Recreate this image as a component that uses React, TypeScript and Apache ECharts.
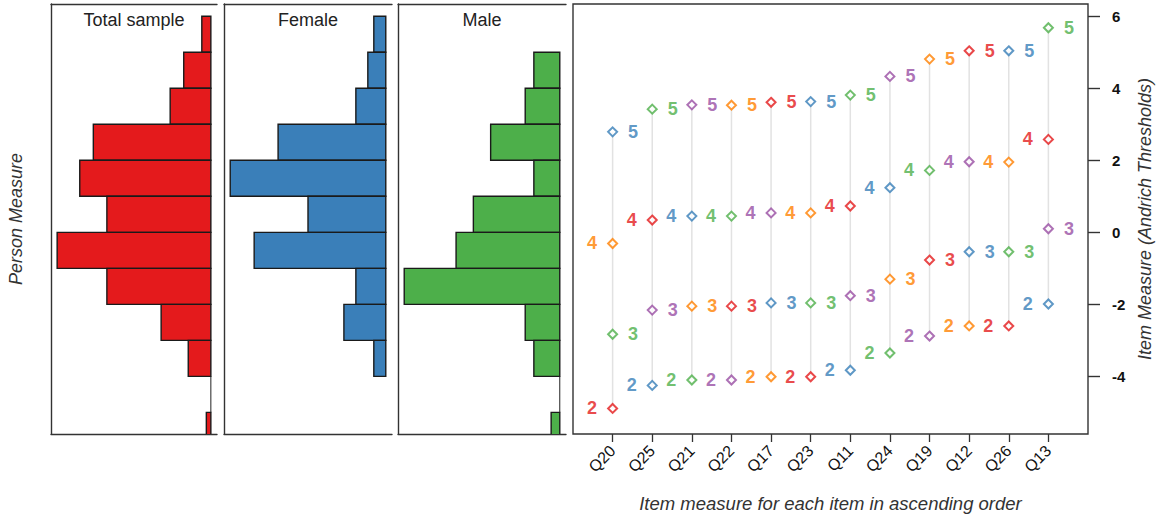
import React, { useEffect, useRef } from "react";
import * as echarts from "echarts";

// Histogram bins (person measure), from top bin (5..6) down to (-6..-5)
const binEdges = [6, 5, 4, 3, 2, 1, 0, -1, -2, -3, -4, -5, -6];
const totalCounts = [2, 6, 9, 26, 29, 23, 34, 23, 11, 5, 0, 1];
const femaleCounts = [2, 3, 5, 18, 26, 13, 22, 5, 7, 2, null, null];
const maleCounts = [null, 3, 4, 8, 3, 10, 12, 18, 4, 3, 0, 1];
const panelTitles = ["Total sample", "Female", "Male"];

// Item thresholds (Andrich), items in ascending order
const items = ["Q20", "Q25", "Q21", "Q22", "Q17", "Q23", "Q11", "Q24", "Q19", "Q12", "Q26", "Q13"];
const threshold2 = [-4.89, -4.25, -4.1, -4.1, -4.01, -4.01, -3.83, -3.35, -2.88, -2.6, -2.6, -1.99];
const threshold3 = [-2.83, -2.16, -2.05, -2.05, -1.96, -1.96, -1.76, -1.3, -0.77, -0.54, -0.54, 0.1];
const threshold4 = [-0.31, 0.34, 0.45, 0.45, 0.54, 0.54, 0.73, 1.24, 1.72, 1.96, 1.95, 2.58];
const threshold5 = [2.79, 3.42, 3.54, 3.53, 3.61, 3.63, 3.81, 4.33, 4.81, 5.04, 5.04, 5.68];
const thresholdLabels = ["2", "3", "4", "5"];
const yTicks = [-4, -2, 0, 2, 4, 6];

const Y_MIN = -5.6;
const Y_MAX = 6.34;
const palette = ["#E41A1C", "#377EB8", "#4DAF4A", "#984EA3", "#FF7F00"];
const histColors = ["#E41A1C", "#3A7FB9", "#4DAF4A"];
const FONT = "'Liberation Sans', Arial, sans-serif";

const histGrids = [
  { left: 51, width: 166 },
  { left: 224, width: 168 },
  { left: 398, width: 168 },
];
const TOP = 4;
const HEIGHT = 430;

export default function App() {
  const ref = useRef<HTMLDivElement>(null);

  useEffect(() => {
    document.body.style.margin = "0";
    if (!ref.current) return;
    const chart = echarts.init(ref.current, null, { renderer: "svg" });
    const histData = [totalCounts, femaleCounts, maleCounts];
    const frameLine = { color: "#333", width: 1.4 };
    const nameStyle = { fontStyle: "italic", fontSize: 18, color: "#333", fontFamily: FONT };

    const grids: any[] = histGrids.map((g) => ({
      left: g.left,
      width: g.width,
      top: TOP,
      height: HEIGHT,
      show: false,
      containLabel: false,
      outerBoundsMode: "none",
    }));
    grids.push({
      left: 573,
      width: 515,
      top: TOP,
      height: HEIGHT,
      show: true,
      borderColor: "#333",
      borderWidth: 1.4,
      containLabel: false,
      outerBoundsMode: "none",
    });

    const xAxes: any[] = [];
    const yAxes: any[] = [];
    histData.forEach((counts, k) => {
      const mx = Math.max(...(counts.filter((c) => c != null) as number[]));
      ["bottom", "top"].forEach((pos) => {
        xAxes.push({
          type: "value",
          gridIndex: k,
          position: pos,
          inverse: true,
          min: -0.04 * mx,
          max: 1.04 * mx,
          axisLine: { show: true, onZero: false, lineStyle: frameLine },
          axisTick: { show: false },
          axisLabel: { show: false },
          splitLine: { show: false },
        });
      });
      yAxes.push({
        type: "value",
        gridIndex: k,
        position: "left",
        min: Y_MIN,
        max: Y_MAX,
        axisLine: { show: true, onZero: false, lineStyle: frameLine },
        axisTick: { show: false },
        axisLabel: { show: false },
        splitLine: { show: false },
        name: k === 0 ? "Person Measure" : "",
        nameLocation: "middle",
        nameRotate: 90,
        nameGap: 26,
        nameTextStyle: nameStyle,
      });
    });
    const itemPositions = items.map((_, i) => i + 1);
    xAxes.push({
      type: "value",
      gridIndex: 3,
      position: "bottom",
      min: 0,
      max: items.length + 1,
      axisLine: { show: false, onZero: false },
      axisTick: { show: true, customValues: itemPositions, length: 8, lineStyle: { color: "#333", width: 1.3 } },
      axisLabel: {
        customValues: itemPositions,
        formatter: (v: number) => items[Math.round(v) - 1] ?? "",
        rotate: 45,
        fontSize: 16,
        color: "#111",
        margin: 14,
        fontFamily: FONT,
      },
      splitLine: { show: false },
      name: "Item measure for each item in ascending order",
      nameLocation: "middle",
      nameGap: 60,
      nameTextStyle: { ...nameStyle, fontSize: 18.5 },
    });
    yAxes.push({
      type: "value",
      gridIndex: 3,
      position: "right",
      min: Y_MIN,
      max: Y_MAX,
      axisLine: { show: false, onZero: false },
      axisTick: { show: true, customValues: yTicks, length: 12, lineStyle: { color: "#333", width: 1.4 } },
      axisLabel: {
        customValues: yTicks,
        fontSize: 15,
        fontWeight: "bold",
        color: "#111",
        margin: 24,
        fontFamily: FONT,
      },
      splitLine: { show: false },
      name: "Item Measure (Andrich Thresholds)",
      nameLocation: "middle",
      nameRotate: 90,
      nameGap: 48,
      nameTextStyle: nameStyle,
    });

    const series: any[] = [];
    histData.forEach((counts, k) => {
      const data = counts
        .map((c, b) => (c == null ? null : [c, binEdges[b], binEdges[b + 1]]))
        .filter((d) => d != null);
      series.push({
        type: "custom",
        xAxisIndex: 2 * k,
        yAxisIndex: k,
        clip: true,
        data,
        encode: { x: 0, y: [1, 2] },
        renderItem: (_p: any, api: any) => {
          const c = api.value(0);
          const hi = api.value(1);
          const lo = api.value(2);
          const p1 = api.coord([c, hi]);
          const p0 = api.coord([0, lo]);
          if (c === 0) {
            return {
              type: "line",
              shape: { x1: p0[0], y1: p1[1], x2: p0[0], y2: p0[1] },
              style: { stroke: "#222", lineWidth: 1 },
            };
          }
          return {
            type: "rect",
            shape: {
              x: Math.min(p0[0], p1[0]),
              y: p1[1],
              width: Math.abs(p1[0] - p0[0]),
              height: p0[1] - p1[1],
            },
            style: { fill: histColors[k], stroke: "#1a1a1a", lineWidth: 1.4 },
          };
        },
      });
    });

    // vertical connector lines from lowest to highest threshold
    series.push({
      type: "custom",
      xAxisIndex: 6,
      yAxisIndex: 3,
      z: 1,
      data: items.map((_, i) => [i + 1, threshold2[i], threshold5[i]]),
      encode: { x: 0, y: [1, 2] },
      renderItem: (_p: any, api: any) => {
        const a = api.coord([api.value(0), api.value(1)]);
        const b = api.coord([api.value(0), api.value(2)]);
        return {
          type: "line",
          shape: { x1: a[0], y1: a[1], x2: b[0], y2: b[1] },
          style: { stroke: "#e2e2e2", lineWidth: 1.5 },
        };
      },
    });

    const thresholds = [threshold2, threshold3, threshold4, threshold5];
    thresholds.forEach((arr, t) => {
      series.push({
        type: "scatter",
        xAxisIndex: 6,
        yAxisIndex: 3,
        z: 3,
        symbol: "emptyDiamond",
        symbolSize: 9,
        data: arr.map((v, i) => {
          const col = palette[(i + 2 * t) % 5];
          return {
            value: [i + 1, v],
            itemStyle: { color: col, borderWidth: 1.2 },
            label: { color: col },
          };
        }),
        label: {
          show: true,
          formatter: thresholdLabels[t],
          position: t % 2 === 0 ? "left" : "right",
          distance: 10,
          fontSize: 18,
          fontWeight: "bold",
          fontFamily: FONT,
        },
      });
    });

    chart.setOption({
      animation: false,
      backgroundColor: "#fff",
      grid: grids,
      xAxis: xAxes,
      yAxis: yAxes,
      series,
      graphic: panelTitles.map((t, k) => ({
        type: "text",
        x: histGrids[k].left + histGrids[k].width / 2,
        y: 20,
        style: {
          text: t,
          align: "center",
          verticalAlign: "middle",
          textAlign: "center",
          textVerticalAlign: "middle",
          fontSize: 18,
          fill: "#222",
          fontFamily: FONT,
        },
      })),
    });
    return () => chart.dispose();
  }, []);

  return <div ref={ref} style={{ width: 1160, height: 521 }} />;
}
